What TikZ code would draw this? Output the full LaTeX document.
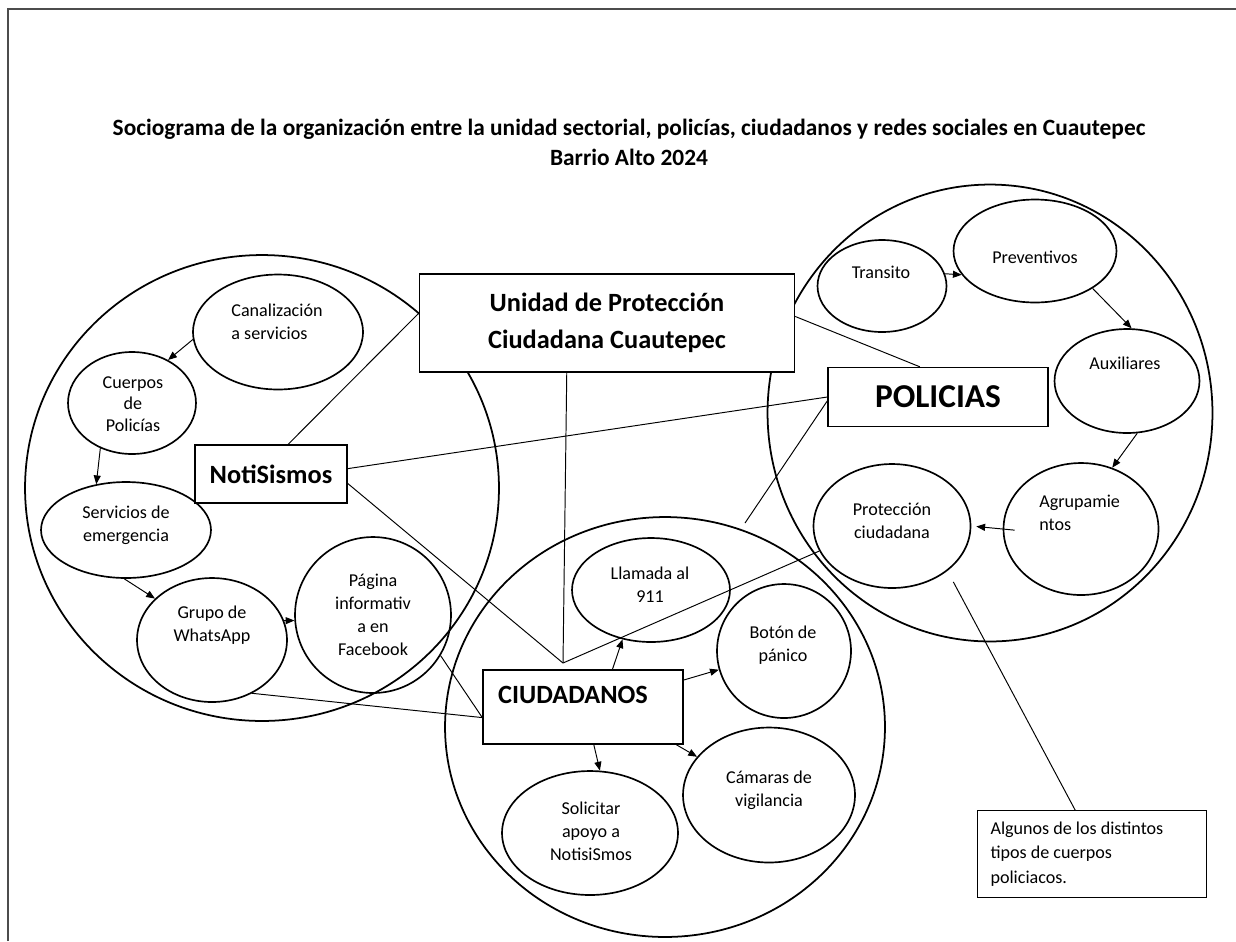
\documentclass[tikz,border=0pt]{standalone}
\usepackage{fontspec}
\setmainfont{Carlito}
\usetikzlibrary{arrows.meta}
\usetikzlibrary{shapes.geometric}

\tikzset{
    grupo/.style={draw,ellipse,line width=1pt,inner sep=0pt},
    burbuja/.style={draw,ellipse,line width=0.95pt,inner sep=0pt},
    caja/.style={draw,fill=white,line width=0.8pt,inner sep=0pt,align=center,font=\bfseries\fontsize{15}{21}\selectfont},
    texto/.style={inner sep=0pt,align=center,font=\fontsize{10.3}{13}\selectfont},
    liga/.style={line width=0.55pt},
    flecha/.style={line width=0.55pt,-{Triangle[length=5pt,width=4pt]}},
}

\begin{document}
\begin{tikzpicture}[x=0.02cm,y=-0.02cm]
    \useasboundingbox (0,0) rectangle (1236,941);
    \draw[line width=0.6pt,black!70] (8,941) -- (8,9) -- (1236,9);

    \node[align=center,font=\bfseries\fontsize{13.3}{17}\selectfont] (titulo) at (629,142)
        {Sociograma de la organización entre la unidad sectorial, policías, ciudadanos y redes sociales en Cuautepec\\Barrio Alto 2024};

    % los tres grupos
    \node[grupo,minimum width=9.48cm,minimum height=9.32cm] (gnotis) at (262,488) {};
    \node[grupo,minimum width=8.8cm,minimum height=8.4cm] (gciud) at (665,727) {};
    \node[grupo,minimum width=8.9cm,minimum height=9.14cm] (gpol) at (990,413) {};

    % NotiSismos
    \node[burbuja,minimum width=3.4cm,minimum height=2.3cm] (canal) at (278,332) {};
    \node[texto,align=left] (canal-t) at (277,322) {Canalización\\a servicios};
    \node[burbuja,minimum width=2.56cm,minimum height=2.04cm] (cuerpos) at (132,403) {};
    \node[texto,font=\fontsize{10.3}{12.2}\selectfont] (cuerpos-t) at (133,404) {Cuerpos\\de\\Policías};
    \node[burbuja,minimum width=3.4cm,minimum height=1.92cm] (servicios) at (126,530) {};
    \node[texto] (servicios-t) at (126,525) {Servicios de\\emergencia};
    \node[burbuja,minimum width=3cm,minimum height=2.48cm] (grupo) at (212,640) {};
    \node[texto] (grupo-t) at (212,625) {Grupo de\\WhatsApp};
    \node[burbuja,minimum width=3.12cm,minimum height=3.12cm] (pagina) at (373,615) {};
    \node[texto] (pagina-t) at (373,615) {Página\\informativ\\a en\\Facebook};

    % CIUDADANOS
    \node[burbuja,minimum width=3.16cm,minimum height=2.08cm] (llamada) at (651,590) {};
    \node[texto] (llamada-t) at (650,585) {Llamada al\\911};
    \node[burbuja,minimum width=2.68cm,minimum height=2.68cm] (boton) at (784,651) {};
    \node[texto] (boton-t) at (783,645) {Botón de\\pánico};
    \node[burbuja,minimum width=3.44cm,minimum height=2.7cm] (camaras) at (769,795) {};
    \node[texto] (camaras-t) at (769,790) {Cámaras de\\vigilancia};
    \node[burbuja,minimum width=3.52cm,minimum height=2.48cm] (solicitar) at (590,833) {};
    \node[texto] (solicitar-t) at (591,831) {Solicitar\\apoyo a\\NotisiSmos};

    % POLICIAS
    \node[burbuja,minimum width=2.58cm,minimum height=1.84cm] (transito) at (882,286) {};
    \node[texto] (transito-t) at (881,272) {Transito};
    \node[burbuja,minimum width=3.26cm,minimum height=2.06cm] (preventivos) at (1035,251) {};
    \node[texto] (preventivos-t) at (1035,257) {Preventivos};
    \node[burbuja,minimum width=2.9cm,minimum height=2.08cm] (auxiliares) at (1127,381) {};
    \node[texto] (auxiliares-t) at (1125,363) {Auxiliares};
    \node[burbuja,minimum width=3.1cm,minimum height=2.64cm] (agrup) at (1081,529) {};
    \node[texto,align=left,anchor=west] (agrup-t) at (1039,513) {Agrupamie\\ntos};
    \node[burbuja,minimum width=3.14cm,minimum height=2.48cm] (proteccion) at (892,526) {};
    \node[texto] (proteccion-t) at (892,521) {Protección\\ciudadana};

    % cajas
    \node[caja,minimum width=7.5cm,minimum height=1.96cm] (unidad) at (607,323) {Unidad de Protección\\Ciudadana Cuautepec};
    \node[caja,minimum width=4.4cm,minimum height=1.18cm,font=\bfseries\fontsize{19}{23}\selectfont] (policias) at (938,397) {POLICIAS};
    \node[caja,minimum width=3.04cm,minimum height=1.16cm] (notis) at (271,474) {NotiSismos};
    \node[caja,minimum width=4cm,minimum height=1.48cm] (ciud) at (583,707) {};
    \node[inner sep=0pt,font=\bfseries\fontsize{15}{21}\selectfont] (ciud-t) at (573,695) {CIUDADANOS};
    \node[draw,line width=0.6pt,inner xsep=0.26cm,text width=4.06cm,minimum height=1.74cm,align=flush left,
        font=\fontsize{10.3}{13.8}\selectfont] (nota) at (1092,854) {Algunos de los distintos\\tipos de cuerpos\\policiacos.};

    % flechas
    \draw[flecha] (canal.185) -- (cuerpos.50);
    \draw[flecha] (cuerpos.235) -- (servicios.123);
    \draw[flecha] (servicios.268) -- (grupo.144);
    \draw[flecha] (grupo.15) -- (pagina.184);
    \draw[flecha] (ciud.52) -- (llamada.240);
    \draw[flecha] (ciud.15) -- (boton.196);
    \draw[flecha] (ciud.338) -- (camaras.152);
    \draw[flecha] (ciud.286) -- (solicitar.81);
    \draw[flecha] (transito.11) -- (preventivos.198);
    \draw[flecha] (preventivos.327) -- (auxiliares.85);
    \draw[flecha] (auxiliares.281) -- (agrup.63);
    \draw[flecha,shorten <=-0.24cm,shorten >=0.1cm] (agrup.west) -- (proteccion.east);

    % lineas
    \coordinate (cruce) at (563,663);
    \coordinate (borde) at (745,523);
    \draw[liga] (notis.60) -- (unidad.177);
    \draw[liga] (notis.4) -- (policias.west);
    \draw[liga] (notis.353) -- (cruce);
    \draw[liga] (unidad.231) -- (cruce);
    \draw[liga] (cruce) -- (proteccion.199);
    \draw[liga] (policias.182) -- (borde);
    \draw[liga] (unidad.2) -- (policias.121);
    \draw[liga] (grupo.307) -- (ciud.186);
    \draw[liga] (pagina.329) -- (ciud.186);
    \draw[liga,shorten <=0.25cm] (proteccion.321) -- (nota.111);
\end{tikzpicture}
\end{document}
